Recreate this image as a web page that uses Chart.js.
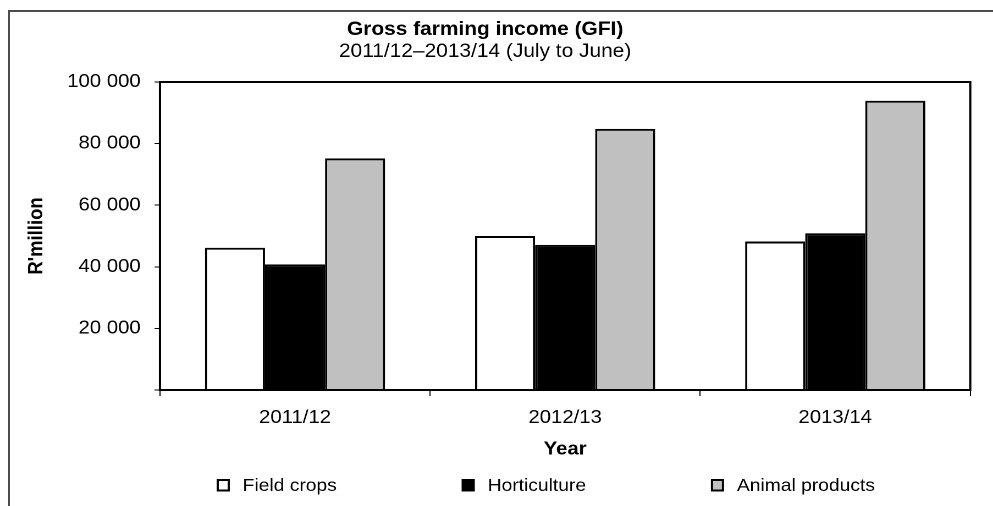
<!DOCTYPE html>
<html>
<head>
<meta charset="utf-8">
<script src="https://cdn.jsdelivr.net/npm/chart.js@4.4.1/dist/chart.umd.min.js"></script>
<style>
    html, body { margin: 0; padding: 0; background: #fff; overflow: hidden; }
    #frame {
        position: absolute; left: 8px; top: 10px; width: 1000px; height: 520px;
        border-top: 2px solid #4d4d4d; border-left: 2px solid #4d4d4d;
    }
    /* the source picture is stretched a little horizontally */
    #wrap {
        position: absolute; left: 0; top: 0; width: 903px; height: 506px;
        transform: scaleX(1.0997); transform-origin: 0 0;
    }
</style>
</head>
<body>
<div id="frame"></div>
<div id="wrap"><canvas id="gfiChart" width="903" height="506"></canvas></div>
<script>
// Values (R'million)
const years = ['2011/12', '2012/13', '2013/14'];
const fieldCrops = [46200, 50000, 48200];
const horticulture = [40800, 47100, 50900];
const animalProducts = [75200, 84800, 93900];
const yTicks = [0, 20000, 40000, 60000, 80000, 100000];

const FONT = "'Liberation Sans', Arial, sans-serif";

// Full black box round the plot area
const plotBox = {
    id: 'plotBox',
    afterDatasetsDraw(chart) {
        const { ctx, chartArea: a } = chart;
        ctx.save();
        ctx.strokeStyle = '#000';
        ctx.lineWidth = 2;
        ctx.strokeRect(a.left, a.top, a.right - a.left, a.bottom - a.top);
        ctx.restore();
    }
};

// Legend with wide fixed gaps, as in the source
const wideLegend = {
    id: 'wideLegend',
    afterDraw(chart) {
        const { ctx, chartArea: a } = chart;
        ctx.save();
        ctx.font = '17.5px ' + FONT;
        ctx.textBaseline = 'alphabetic';
        let x = a.left + 52.5;
        chart.data.datasets.forEach(ds => {
            ctx.fillStyle = ds.backgroundColor;
            ctx.fillRect(x, 480, 10, 10.5);
            ctx.strokeStyle = '#000';
            ctx.lineWidth = 2;
            ctx.strokeRect(x, 480, 10, 10.5);
            ctx.fillStyle = '#000';
            const tx = x + 22.7;
            ctx.fillText(ds.label, tx, 491);
            x = tx + ctx.measureText(ds.label).width + 114.5;
        });
        ctx.restore();
    }
};

const ctx = document.getElementById('gfiChart').getContext('2d');
new Chart(ctx, {
    type: 'bar',
    data: {
        labels: years,
        datasets: [
            { label: 'Field crops', data: fieldCrops, backgroundColor: '#ffffff' },
            { label: 'Horticulture', data: horticulture, backgroundColor: '#000000' },
            { label: 'Animal products', data: animalProducts, backgroundColor: '#c0c0c0' }
        ]
    },
    options: {
        responsive: false,
        animation: false,
        devicePixelRatio: 2,
        layout: { padding: { left: 0, right: 20.7, top: 0, bottom: 45.3 } },
        datasets: {
            bar: {
                borderColor: '#000',
                borderWidth: 2,
                categoryPercentage: 0.667,
                barPercentage: 1.0
            }
        },
        plugins: {
            legend: { display: false },
            tooltip: { enabled: false },
            title: {
                display: true,
                text: 'Gross farming income (GFI)',
                color: '#000',
                font: { family: FONT, size: 19, weight: 'bold', lineHeight: 1.0 },
                padding: { top: 20.5, bottom: 0 }
            },
            subtitle: {
                display: true,
                text: '2011/12\u20132013/14 (July to June)',
                color: '#000',
                font: { family: FONT, size: 19, weight: 'normal', lineHeight: 1.0 },
                padding: { top: 3, bottom: 20.5 }
            }
        },
        scales: {
            x: {
                grid: { drawOnChartArea: false, drawTicks: true, tickLength: 6, color: '#000', offset: true },
                border: { display: true, color: '#000', width: 2 },
                ticks: { color: '#000', padding: 11, font: { family: FONT, size: 18.5 } },
                title: {
                    display: true,
                    text: 'Year',
                    color: '#000',
                    font: { family: FONT, size: 18.5, weight: 'bold', lineHeight: 1.0 },
                    padding: { top: 0, bottom: 2 }
                }
            },
            y: {
                min: 0,
                max: 100000,
                afterBuildTicks(axis) {
                    axis.ticks = yTicks.map(v => ({ value: v }));
                },
                grid: { drawOnChartArea: false, drawTicks: true, tickLength: 5, color: '#000' },
                border: { display: true, color: '#000', width: 2 },
                ticks: {
                    color: '#000',
                    padding: 12.5,
                    font: { family: FONT, size: 18.5 },
                    callback: v => v === 0 ? '' : String(v).replace(/\B(?=(\d{3})+(?!\d))/g, ' ')
                },
                title: {
                    display: true,
                    text: "R'million",
                    color: '#000',
                    font: { family: FONT, size: 18.5, weight: 'bold' },
                    padding: { top: 22.5, bottom: 3.9 }
                }
            }
        }
    },
    plugins: [plotBox, wideLegend]
});
</script>
</body>
</html>
